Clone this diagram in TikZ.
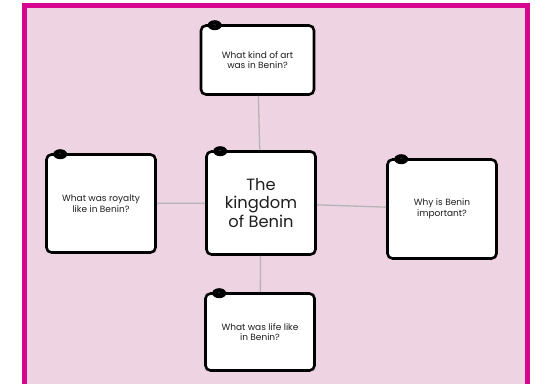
\documentclass[tikz,border=0pt]{standalone}
\usepackage{fontspec}
\setmainfont{Poppins}
\usepackage{tikz}
\usetikzlibrary{shapes}
\definecolor{framepink}{HTML}{D6068F}
\definecolor{lightpink}{HTML}{EED4E3}
\definecolor{linegray}{HTML}{B4B4B4}
\definecolor{textgray}{HTML}{1E1E1E}
\tikzset{
  card/.style={draw=black, line width=2.6pt, rounded corners=5pt, fill=white,
    align=center, text=textgray, inner sep=2pt, minimum width=109pt,
    font=\fontsize{9}{10.6}\selectfont},
  knob/.style={ellipse, fill=black, minimum width=14pt, minimum height=10pt,
    inner sep=0pt, text=gray, font=\fontsize{5}{5}\selectfont},
  link/.style={draw=linegray, line width=1.3pt}
}

\begin{document}
\begin{tikzpicture}[x=1pt,y=-1pt]

\useasboundingbox (0,0) rectangle (535,383);
\clip (0,0) rectangle (535,383);

%% frame
\draw[fill=lightpink, draw=framepink, line width=5pt] (24.5,5.5) rectangle (527.5,400);

\node[card, minimum height=103pt, font=\fontsize{16.3}{18.4}\selectfont]
  (benin) at (261,203) {The\\kingdom\\of Benin};
\node[card, minimum width=113pt, minimum height=69pt]
  (art) at (257.5,60) {What kind of art\\was in Benin?};
\node[card, minimum height=98pt]
  (royalty) at (101,203.5) {What was royalty\\like in Benin?};
\node[card, minimum height=99pt]
  (important) at (442,209) {Why is Benin\\important?};
\node[card, minimum height=77pt]
  (life) at (260,332) {What was life like\\in Benin?};

%% knobs
\node[knob] (benin-k) at ([shift={(15,1)}]benin.north west) {-};
\node[knob] (art-k) at ([shift={(15,1)}]art.north west) {-};
\node[knob] (royalty-k) at ([shift={(15,1)}]royalty.north west) {-};
\node[knob] (important-k) at ([shift={(15,1)}]important.north west) {-};
\node[knob] (life-k) at ([shift={(15,1)}]life.north west) {-};

%% links
\draw[link] (benin) -- (art);
\draw[link] (benin) -- (royalty);
\draw[link] (benin) -- (important);
\draw[link] (benin) -- (life);

\end{tikzpicture}
\end{document}
